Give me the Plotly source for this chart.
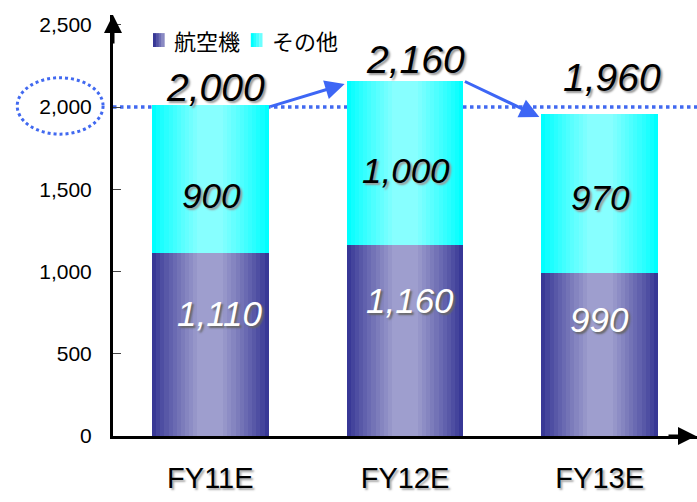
import plotly.graph_objects as go

categories = ["FY11E", "FY12E", "FY13E"]
aircraft = [1110, 1160, 990]          # 航空機
others = [900, 1000, 970]             # その他
totals = [2000, 2160, 1960]
baseline = 2000
series_names = ["航空機", "その他"]
y_ticks = [0, 500, 1000, 1500, 2000, 2500]
y_tick_text = ["0", "500", "1,000", "1,500", "2,000", "2,500"]

def fmt(v):
    return f"{v:,}"

def lerp(c1, c2, t):
    return "rgb({},{},{})".format(*[round(a + (b - a) * t) for a, b in zip(c1, c2)])

fig = go.Figure()
N = 12
BAR_W = 0.6
grad = {
    "航空機": ((56, 56, 150), (158, 158, 206)),
    "その他": ((0, 255, 255), (135, 255, 255)),
}
bases = {"航空機": [0, 0, 0], "その他": aircraft}
vals = {"航空機": aircraft, "その他": others}

for name in series_names:
    dark, light = grad[name]
    for i in range(N):
        t = i / (N - 1)
        w = BAR_W * (1 - 0.78 * t)
        fig.add_trace(go.Bar(
            x=list(range(len(categories))), y=vals[name], base=bases[name],
            width=w, marker=dict(color=lerp(dark, light, t ** 0.9), line=dict(width=0)),
            name=name, showlegend=False, legendgroup=name,
            hoverinfo="skip",
        ))

# reference line
fig.add_shape(type="line", xref="paper", x0=0, x1=1, yref="y", y0=baseline, y1=baseline,
              line=dict(color="#4169f0", width=3.5, dash="dot"), layer="below")
# dotted ellipse around 2,000 tick label
fig.add_shape(type="circle", xref="paper", yref="paper",
              x0=-0.164, x1=-0.017, y0=0.717, y1=0.851,
              line=dict(color="#4169f0", width=3, dash="dot"))

# legend (drawn manually for tight spacing)
legend_pos = [(0.0685, 0.101), (0.236, 0.269)]
for name, (sx, tx) in zip(series_names, legend_pos):
    dark, light = grad[name]
    strips = 4
    sw = 0.0195 / strips
    for k in range(strips):
        fig.add_shape(type="rect", xref="paper", yref="paper",
                      x0=sx + k * sw, x1=sx + (k + 1) * sw + 0.0005, y0=0.924, y1=0.957,
                      fillcolor=lerp(dark, light, k / (strips - 1) * 0.8), line=dict(width=0))

ann = []
for name, (sx, tx) in zip(series_names, legend_pos):
    ann.append(dict(xref="paper", yref="paper", x=tx, y=0.941, xanchor="left", yanchor="middle",
                    text=name, showarrow=False,
                    font=dict(family="Noto Sans CJK JP", size=22, color="black")))

# axis arrowheads
ann.append(dict(xref="paper", yref="paper", x=0, y=1, ax=0, ay=30, text="", showarrow=True,
                arrowhead=2, arrowsize=1.2, arrowwidth=3, arrowcolor="black"))
ann.append(dict(xref="paper", yref="paper", x=1, y=0, ax=-30, ay=0, text="", showarrow=True,
                arrowhead=2, arrowsize=1.2, arrowwidth=3, arrowcolor="black"))

# arrows between totals
for i in range(len(categories) - 1):
    ann.append(dict(xref="x", yref="y", axref="x", ayref="y",
                    x=i + 1 - BAR_W / 2 - 0.01, y=totals[i + 1] - 20,
                    ax=i + BAR_W / 2, ay=totals[i],
                    text="", showarrow=True, arrowhead=2, arrowsize=1.3, arrowwidth=3,
                    arrowcolor="#3d66f5"))

shadow_dark = "2px 2px 2px #999999"
shadow_light = "2px 2px 2px #666666"
total_dy = [-4, -2, 13]
total_dx = [5, 10, 12]
upper_dy = [-16, -7, -4]
lower_dy = [0, 8, 7]
lower_dx = [10, 5, 0]
for i, c in enumerate(categories):
    ann.append(dict(x=i, y=totals[i], text=fmt(totals[i]), showarrow=False,
                    yanchor="bottom", yshift=total_dy[i], xshift=total_dx[i],
                    font=dict(family="Liberation Sans", size=39, style="italic", color="black",
                              shadow=shadow_dark)))
    ann.append(dict(x=i, y=aircraft[i] + others[i] / 2, text=fmt(others[i]), showarrow=False,
                    yshift=upper_dy[i], xshift=1,
                    font=dict(family="Liberation Sans", size=35, style="italic", color="black",
                              shadow=shadow_dark)))
    ann.append(dict(x=i, y=aircraft[i] * 0.67, text=fmt(aircraft[i]), showarrow=False,
                    yshift=lower_dy[i], xshift=lower_dx[i],
                    font=dict(family="Liberation Sans", size=35, style="italic", color="white",
                              shadow=shadow_light)))

fig.update_layout(
    width=697, height=502,
    margin=dict(l=113, r=0, t=15, b=66),
    paper_bgcolor="white", plot_bgcolor="white",
    barmode="overlay", bargap=0,
    annotations=ann,
    showlegend=False,
    xaxis=dict(range=[-0.5, 2.5], tickmode="array", tickvals=list(range(len(categories))),
               ticktext=categories, showline=True, linewidth=3, linecolor="black",
               showgrid=False, zeroline=False, ticks="",
               tickfont=dict(family="Liberation Sans", size=29, color="black",
                             shadow="2px 2px 2px #aaaaaa"),
               ticklabelstandoff=14),
    yaxis=dict(range=[0, 2560], tickmode="array", tickvals=y_ticks, ticktext=y_tick_text,
               showline=True, linewidth=3, linecolor="black", showgrid=False, zeroline=False,
               ticks="inside", ticklen=8, tickwidth=1, tickcolor="#444444",
               tickfont=dict(family="Liberation Sans", size=21, color="black"),
               ticklabelstandoff=14),
)

fig.write_html("out.html")
